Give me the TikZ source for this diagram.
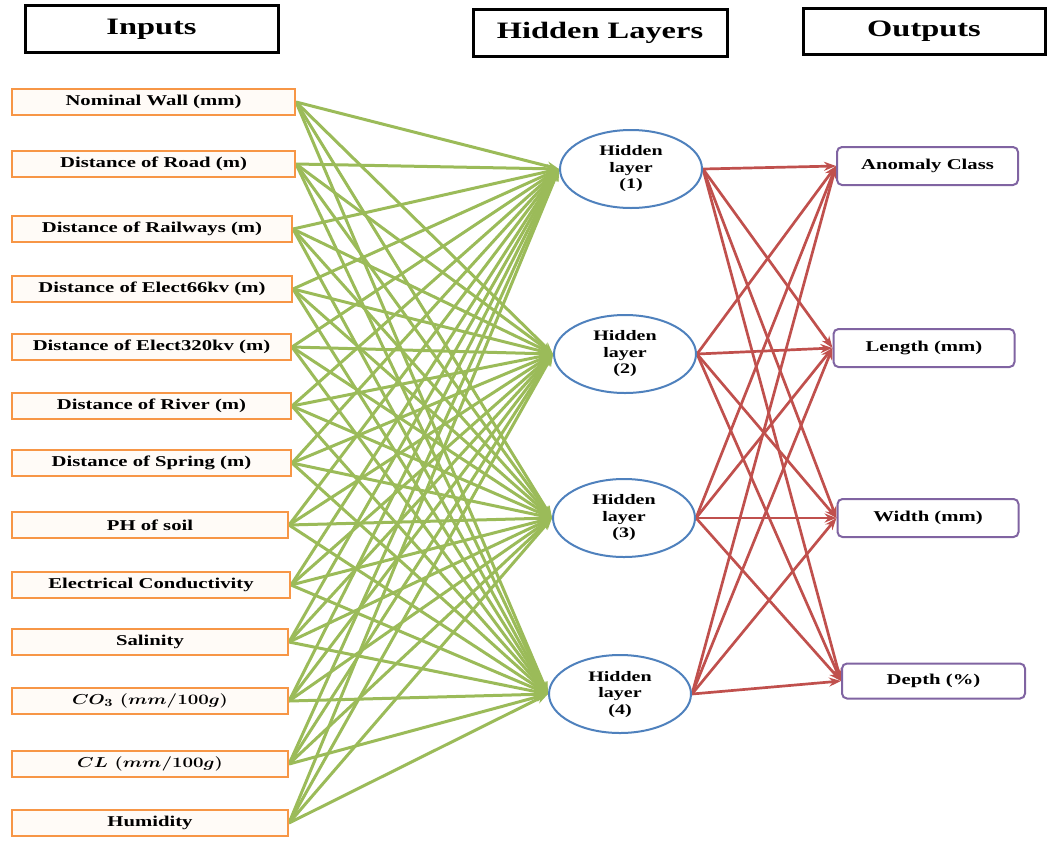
\documentclass[tikz,border=0pt]{standalone}
\usepackage{fontspec}
\setmainfont{Liberation Serif}[FakeStretch=1.38]
\usepackage{graphicx}
\usetikzlibrary{arrows.meta,backgrounds,shapes.geometric}
\definecolor{ggreen}{HTML}{9BBB59}
\definecolor{rred}{HTML}{C0504D}
\definecolor{hblue}{HTML}{4F81BD}
\definecolor{borange}{HTML}{F79646}
\definecolor{opurple}{HTML}{8064A2}
\begin{document}
\begin{tikzpicture}[x=1pt,y=-1pt,
  inbox/.style={draw=borange, line width=2pt, fill=orange!3, minimum height=26pt, inner sep=0pt,
    font=\bfseries\fontsize{15}{17}\selectfont},
  hid/.style={ellipse, draw=hblue, line width=2pt, fill=white, minimum width=142pt, minimum height=78pt,
    inner sep=0pt, align=center, font=\bfseries\fontsize{14.5}{16.5}\selectfont},
  outbox/.style={rounded corners=5pt, draw=opurple, line width=2pt, fill=white, minimum width=181pt,
    minimum height=38pt, inner sep=0pt, font=\bfseries\fontsize{15}{17}\selectfont},
  head/.style={draw=black, line width=3pt, fill=white, inner sep=0pt,
    font=\bfseries\fontsize{23.5}{26}\selectfont},
  garrow/.style={draw=ggreen, line width=3pt, -{Stealth[length=12pt,width=9pt]}},
  rarrow/.style={draw=rred, line width=2.7pt, -{Stealth[length=12pt,width=9pt]}}]
\useasboundingbox (0,0) rectangle (1048,841);

% headers
\node[head, minimum width=253pt, minimum height=47pt] (hIn) at (151.5,29) {Inputs};
\node[head, minimum width=254pt, minimum height=47pt] (hHid) at (600,33) {Hidden Layers};
\node[head, minimum width=242pt, minimum height=46pt] (hOut) at (924,31) {Outputs};

% inputs
\node[inbox, minimum width=283pt] (in1) at (153.5,102) {Nominal Wall (mm)};
\node[inbox, minimum width=283pt] (in2) at (153.5,164) {Distance of Road (m)};
\node[inbox, minimum width=280pt] (in3) at (152,229) {Distance of Railways (m)};
\node[inbox, minimum width=280pt] (in4) at (152,289) {Distance of Elect66kv (m)};
\node[inbox, minimum width=279pt] (in5) at (151.5,347) {Distance of Elect320kv (m)};
\node[inbox, minimum width=279pt] (in6) at (151.5,406) {Distance of River (m)};
\node[inbox, minimum width=279pt] (in7) at (151.5,463) {Distance of Spring (m)};
\node[inbox, minimum width=276pt] (in8) at (150,525) {PH of soil};
\node[inbox, minimum width=278pt] (in9) at (151,585) {Electrical Conductivity};
\node[inbox, minimum width=276pt] (in10) at (150,642) {Salinity};
\node[inbox, minimum width=276pt] (in11) at (150,701) {\scalebox{1.3}[1]{\boldmath$CO_3\ (mm/100g)$}};
\node[inbox, minimum width=276pt] (in12) at (150,764) {\scalebox{1.3}[1]{\boldmath$CL\ (mm/100g)$}};
\node[inbox, minimum width=276pt] (in13) at (150,823) {Humidity};

% hidden
\node[hid] (h1) at (631,169) {Hidden\\layer\\(1)};
\node[hid] (h2) at (625,354) {Hidden\\layer\\(2)};
\node[hid] (h3) at (624,518) {Hidden\\layer\\(3)};
\node[hid] (h4) at (620,694) {Hidden\\layer\\(4)};

% outputs
\node[outbox] (o1) at (927.5,166) {Anomaly Class};
\node[outbox] (o2) at (924,348) {Length (mm)};
\node[outbox] (o3) at (928,518) {Width (mm)};
\node[outbox, minimum height=35pt, minimum width=183pt] (o4) at (933.5,681) {Depth (\%)};

\begin{pgfonlayer}{background}
\foreach \i in {1,...,13}{
  \foreach \j in {1,...,4}{
    \draw[garrow] (in\i.east) -- (h\j.west);
  }
}
\foreach \j in {1,...,4}{
  \foreach \k in {1,...,4}{
    \draw[rarrow] (h\j.east) -- (o\k.west);
  }
}
\end{pgfonlayer}
\end{tikzpicture}
\end{document}
